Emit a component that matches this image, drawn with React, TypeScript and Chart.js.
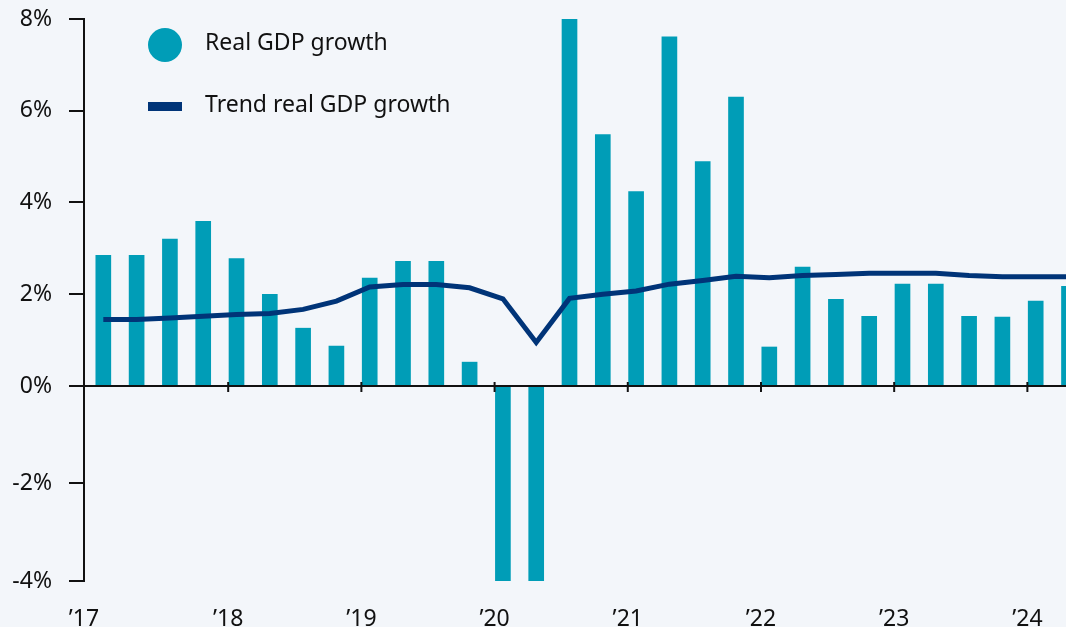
import React, { useEffect, useRef } from "react";
import { Chart, registerables, LinearScale } from "chart.js";

// Quarterly data, 2017 Q1 – 2024 Q2
const QUARTERS = [
  "2017 Q1", "2017 Q2", "2017 Q3", "2017 Q4",
  "2018 Q1", "2018 Q2", "2018 Q3", "2018 Q4",
  "2019 Q1", "2019 Q2", "2019 Q3", "2019 Q4",
  "2020 Q1", "2020 Q2", "2020 Q3", "2020 Q4",
  "2021 Q1", "2021 Q2", "2021 Q3", "2021 Q4",
  "2022 Q1", "2022 Q2", "2022 Q3", "2022 Q4",
  "2023 Q1", "2023 Q2", "2023 Q3", "2023 Q4",
  "2024 Q1", "2024 Q2",
];

// Real GDP growth (%), as shown (bars reaching the axis limits are cut there)
const REAL_GDP = [
  2.85, 2.85, 3.2, 3.59,
  2.78, 2.0, 1.26, 0.87,
  2.35, 2.72, 2.72, 0.52,
  -4, -4, 8, 5.48,
  4.24, 7.61, 4.89, 6.3,
  0.85, 2.59, 1.89, 1.52,
  2.22, 2.22, 1.52, 1.5,
  1.85, 2.17,
];

// Trend real GDP growth (%)
const TREND_GDP = [
  1.45, 1.45, 1.48, 1.52,
  1.56, 1.58, 1.67, 1.85,
  2.16, 2.21, 2.21, 2.14,
  1.9, 0.95, 1.91, 2.0,
  2.07, 2.22, 2.3, 2.39,
  2.36, 2.41, 2.43, 2.46,
  2.46, 2.46, 2.41, 2.38,
  2.38, 2.38,
];

const YEAR_LABELS = ["’17", "’18", "’19", "’20", "’21", "’22", "’23", "’24"];
const Y_TICKS = [-4, -2, 0, 2, 4, 6, 8];
const Y_MIN = -4;
const Y_MAX = 8;

const SERIES_NAMES = ["Real GDP growth", "Trend real GDP growth"];

// Styling / layout constants
const X_MIN = -0.58;
const X_MAX = 28.91;
const YEAR_TICK_SHIFT = -0.25; // year tick sits at the left edge of the Q1 bar
const ZERO_FRACTION = 0.347; // share of the value axis taken by the negative part
const BAR_COLOR = "#009DB7";
const LINE_COLOR = "#003478";
const BG = "#F3F6FA";
const TEXT = "#111111";
const FONT = "'Noto Sans', 'Open Sans', sans-serif";

// Linear scale whose negative and positive halves use slightly different spacing
class SplitLinearScale extends LinearScale {
  static id = "splitLinear";
  static defaults = (LinearScale as any).defaults;
  getPixelForValue(value: number) {
    const s: any = this;
    const min = s.min;
    const max = s.max;
    const dec =
      value >= 0
        ? ZERO_FRACTION + ((1 - ZERO_FRACTION) * value) / max
        : (ZERO_FRACTION * (value - min)) / (0 - min);
    return s.getPixelForDecimal(dec);
  }
  getValueForPixel(pixel: number) {
    const s: any = this;
    const dec = s.getDecimalForPixel(pixel);
    return dec >= ZERO_FRACTION
      ? ((dec - ZERO_FRACTION) / (1 - ZERO_FRACTION)) * s.max
      : s.min + (dec / ZERO_FRACTION) * (0 - s.min);
  }
}

Chart.register(...registerables, SplitLinearScale as any);

const yearTickValues = YEAR_LABELS.map((_, k) =>
  k === 0 ? X_MIN : QUARTERS.indexOf(`20${17 + k} Q1`) + YEAR_TICK_SHIFT
);

const overlayPlugin = {
  id: "overlay",
  beforeDraw(chart: any) {
    const { ctx, width, height } = chart;
    ctx.save();
    ctx.fillStyle = BG;
    ctx.fillRect(0, 0, width, height);
    ctx.restore();
  },
  afterDatasetsDraw(chart: any) {
    const { ctx, chartArea, scales } = chart;
    const y0 = scales.y.getPixelForValue(0);
    ctx.save();
    ctx.strokeStyle = TEXT;
    ctx.lineWidth = 2;
    ctx.beginPath();
    ctx.moveTo(chartArea.left, y0);
    ctx.lineTo(chartArea.right, y0);
    ctx.stroke();
    yearTickValues.forEach((v, k) => {
      if (k === 0) return;
      const x = scales.x.getPixelForValue(v);
      ctx.beginPath();
      ctx.moveTo(x, y0 - 4);
      ctx.lineTo(x, y0 + 6);
      ctx.stroke();
    });
    ctx.restore();
  },
  afterDraw(chart: any) {
    const { ctx, chartArea } = chart;
    const lx = chartArea.left + 81;
    const ly = chartArea.top + 26;
    ctx.save();
    // bar legend marker
    ctx.fillStyle = BAR_COLOR;
    ctx.beginPath();
    ctx.arc(lx, ly, 17, 0, Math.PI * 2);
    ctx.fill();
    // line legend marker
    ctx.fillStyle = LINE_COLOR;
    ctx.fillRect(lx - 17, ly + 57, 34, 9);
    ctx.fillStyle = TEXT;
    ctx.font = `23px ${FONT}`;
    ctx.textBaseline = "middle";
    ctx.textAlign = "left";
    ctx.fillText(SERIES_NAMES[0], lx + 40, ly - 2);
    ctx.fillText(SERIES_NAMES[1], lx + 40, ly + 60);
    ctx.restore();
  },
};

export default function App() {
  const ref = useRef<HTMLCanvasElement | null>(null);

  useEffect(() => {
    document.body.style.background = BG;
    const canvas = ref.current;
    if (!canvas) return;
    const chart = new Chart(canvas, {
      type: "bar",
      data: {
        datasets: [
          {
            type: "line",
            label: SERIES_NAMES[1],
            data: QUARTERS.map((_, i) => ({ x: i, y: TREND_GDP[i] })),
            borderColor: LINE_COLOR,
            borderWidth: 5,
            pointRadius: 0,
            tension: 0,
            fill: false,
            order: 0,
          } as any,
          {
            type: "bar",
            label: SERIES_NAMES[0],
            data: QUARTERS.map((_, i) => ({ x: i, y: REAL_GDP[i] })),
            backgroundColor: BAR_COLOR,
            barThickness: 15,
            order: 1,
          },
        ],
      },
      options: {
        responsive: false,
        animation: false,
        devicePixelRatio: 1,
        layout: { padding: { top: 19, right: 0, left: 0, bottom: 0 } },
        plugins: {
          legend: { display: false },
          tooltip: { enabled: false },
        },
        scales: {
          x: {
            type: "linear",
            offset: false,
            min: X_MIN,
            max: X_MAX,
            afterBuildTicks: (s: any) => {
              s.ticks = yearTickValues.map((v) => ({ value: v }));
            },
            afterFit: (s: any) => {
              s.height = 46;
              s.paddingLeft = 0;
              s.paddingRight = 0;
            },
            ticks: {
              autoSkip: false,
              maxRotation: 0,
              padding: 25,
              color: TEXT,
              font: { size: 23, family: FONT },
              callback: (_v: any, i: number) => YEAR_LABELS[i],
            },
            grid: { display: false, drawTicks: false, tickLength: 0 },
            border: { display: false },
          },
          y: {
            type: "splitLinear",
            min: Y_MIN,
            max: Y_MAX,
            afterBuildTicks: (s: any) => {
              s.ticks = Y_TICKS.map((v) => ({ value: v }));
            },
            afterFit: (s: any) => {
              s.width = 84;
              s.paddingTop = 0;
              s.paddingBottom = 0;
            },
            ticks: {
              padding: 17,
              color: TEXT,
              font: { size: 23, family: FONT },
              callback: (v: any) => `${v}%`,
            },
            grid: {
              drawOnChartArea: false,
              drawTicks: true,
              tickLength: 15,
              color: TEXT,
              lineWidth: 2,
            },
            border: { display: true, color: TEXT, width: 2 },
          },
        },
      },
      plugins: [overlayPlugin],
    } as any);
    return () => chart.destroy();
  }, []);

  return (
    <div style={{ position: "absolute", left: 0, top: 0, width: 1066, height: 627 }}>
      <canvas ref={ref} width={1066} height={627} style={{ display: "block" }} />
    </div>
  );
}
